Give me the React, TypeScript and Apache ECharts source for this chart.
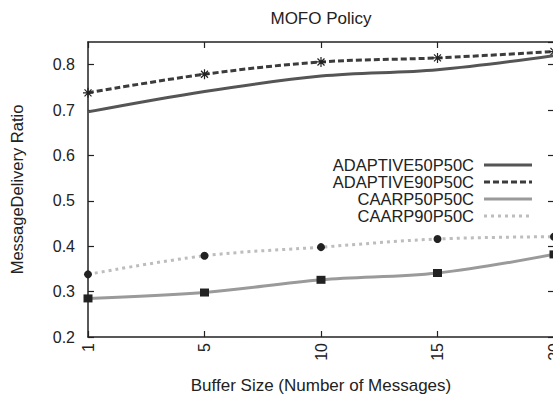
import React, { useEffect, useRef } from "react";
import * as echarts from "echarts";

const categories = ["1", "5", "10", "15", "20"];
const adaptive50 = [0.696, 0.741, 0.775, 0.789, 0.82];
const adaptive90 = [0.738, 0.779, 0.806, 0.815, 0.829];
const caarp50 = [0.285, 0.298, 0.326, 0.341, 0.382];
const caarp90 = [0.338, 0.379, 0.398, 0.416, 0.421];
const seriesNames = ["ADAPTIVE50P50C", "ADAPTIVE90P50C", "CAARP50P50C", "CAARP90P50C"];
const titleText = "MOFO Policy";
const xName = "Buffer Size (Number of Messages)";
const yName = "MessageDelivery Ratio";

const FONT = "Liberation Sans, Arial, Helvetica, sans-serif";
const ASTERISK =
  "path://M-5,-0.6H5V0.6H-5Z M-0.6,-5H0.6V5H-0.6Z M-3.08,-3.92L3.92,3.08L3.08,3.92L-3.92,-3.08Z M-3.92,3.08L3.08,-3.92L3.92,-3.08L-3.08,3.92Z";

const styles = [
  { color: "#555555", type: "solid" as any, symbol: "none", size: 0 },
  { color: "#3c3c3c", type: [6, 3] as any, symbol: ASTERISK, size: 10 },
  { color: "#9a9a9a", type: "solid" as any, symbol: "rect", size: [9, 8] as any },
  { color: "#bdbdbd", type: [3, 4] as any, symbol: "circle", size: 8 },
];

export default function App() {
  const ref = useRef<HTMLDivElement>(null);
  useEffect(() => {
    if (!ref.current) return;
    const chart = echarts.init(ref.current, null, { renderer: "svg" });
    const data = [adaptive50, adaptive90, caarp50, caarp90];
    const gridLeft = 88;
    const gridRight = -1;
    const gridTop = 42;
    const gridBottom = 60;
    const plotCx = (gridLeft + (553 - gridRight)) / 2;
    const plotCy = (gridTop + (397 - gridBottom)) / 2;

    const legendGraphics: any[] = [];
    seriesNames.forEach((n, i) => {
      const y = 165 + i * 17;
      legendGraphics.push({
        type: "text",
        style: { text: n, x: 474, y, textAlign: "right", textVerticalAlign: "middle", font: `16.5px ${FONT}`, fill: "#222" },
      });
      legendGraphics.push({
        type: "line",
        shape: { x1: 484, y1: y, x2: 532, y2: y },
        style: {
          stroke: styles[i].color,
          lineWidth: 3,
          lineDash: Array.isArray(styles[i].type) ? styles[i].type : null,
        },
      });
    });

    chart.setOption({
      animation: false,
      backgroundColor: "#ffffff",
      grid: {
        left: gridLeft,
        right: gridRight,
        top: gridTop,
        bottom: gridBottom,
        show: false,
        containLabel: false,
        outerBoundsMode: "none",
      },
      xAxis: [
        {
          type: "category",
          data: categories,
          boundaryGap: false,
          position: "bottom",
          axisLine: { show: true, lineStyle: { color: "#222", width: 1.5 } },
          axisTick: { show: true, inside: true, length: 6, lineStyle: { color: "#222", width: 1.2 } },
          axisLabel: { rotate: 90, color: "#222", fontSize: 16, fontFamily: FONT, margin: 6, hideOverlap: false },
          splitLine: { show: false },
        },
        {
          type: "category",
          data: categories,
          boundaryGap: false,
          position: "top",
          axisLine: { show: true, lineStyle: { color: "#222", width: 1.5 } },
          axisTick: { show: true, inside: true, length: 6, lineStyle: { color: "#222", width: 1.2 } },
          axisLabel: { show: false },
          splitLine: { show: false },
        },
      ],
      yAxis: [
        {
          type: "value",
          min: 0.2,
          max: 0.85,
          interval: 0.1,
          position: "left",
          axisLine: { show: true, lineStyle: { color: "#222", width: 1.5 } },
          axisTick: { show: true, inside: true, length: 6, lineStyle: { color: "#222", width: 1.2 } },
          axisLabel: {
            color: "#222",
            fontSize: 16,
            fontFamily: FONT,
            margin: 13,
            showMaxLabel: false,
            formatter: (v: number) => v.toFixed(1),
          },
          splitLine: { show: false },
        },
        {
          type: "value",
          min: 0.2,
          max: 0.85,
          interval: 0.1,
          position: "right",
          axisLine: { show: true, lineStyle: { color: "#222", width: 1.5 } },
          axisTick: { show: true, inside: true, length: 6, lineStyle: { color: "#222", width: 1.2 } },
          axisLabel: { show: false },
          splitLine: { show: false },
        },
      ],
      series: seriesNames.map((n, i) => ({
        name: n,
        type: "line",
        xAxisIndex: 0,
        yAxisIndex: 0,
        data: data[i],
        smooth: 0.35,
        symbol: styles[i].symbol,
        symbolSize: styles[i].size,
        showSymbol: styles[i].symbol !== "none",
        lineStyle: { color: styles[i].color, width: 3, type: styles[i].type },
        itemStyle: { color: "#222", borderWidth: 0 },
        z: 3 - (i % 2),
      })),
      graphic: [
        {
          type: "text",
          style: { text: titleText, x: plotCx, y: 18, textAlign: "center", textVerticalAlign: "middle", font: `17px ${FONT}`, fill: "#222" },
        },
        {
          type: "text",
          style: { text: xName, x: plotCx, y: 385, textAlign: "center", textVerticalAlign: "middle", font: `17px ${FONT}`, fill: "#222" },
        },
        {
          type: "text",
          x: 17,
          y: plotCy,
          rotation: Math.PI / 2,
          style: { text: yName, x: 0, y: 0, textAlign: "center", textVerticalAlign: "middle", font: `16.5px ${FONT}`, fill: "#222" },
        },
        ...legendGraphics,
      ],
    });
    return () => chart.dispose();
  }, []);
  return (
    <div
      ref={ref}
      style={{ position: "absolute", left: 0, top: 0, width: 553, height: 397 }}
    />
  );
}
